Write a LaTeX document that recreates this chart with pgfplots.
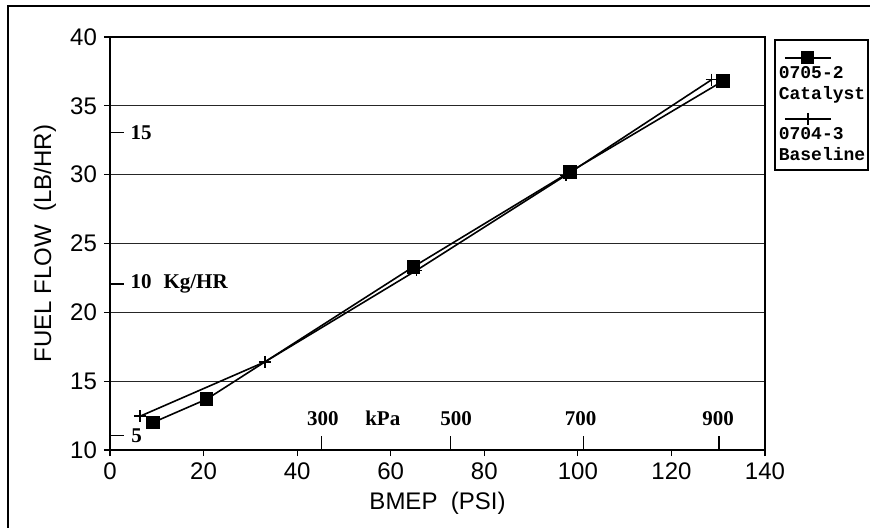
\documentclass[border=0pt]{standalone}
\usepackage{pgfplots}
\pgfplotsset{compat=1.18}
\usepackage{fontspec}
\setmainfont{Liberation Sans}
\newfontfamily\serifb{Liberation Serif}
\newfontfamily\monob{Liberation Mono}
\begin{document}
\begin{tikzpicture}
\path[use as bounding box] (-55pt,-38.5pt) rectangle (380pt,225pt);
\draw[line width=1.2pt] (-51pt,-45pt) -- (-51pt,222pt) -- (385pt,222pt);
\begin{axis}[
  scale only axis, width=327.5pt, height=206.5pt,
  xmin=0, xmax=140, ymin=10, ymax=40,
  xtick={0,20,...,140}, ytick={10,15,...,40},
  xtick pos=bottom, ytick pos=left,
  ymajorgrids, grid style={black!85, line width=0.5pt},
  axis line style={line width=0.8pt},
  tick align=outside, major tick length=3pt,
  tick style={black, line width=0.6pt},
  tick label style={font=\fontsize{12}{13}\selectfont},
  /pgf/number format/assume math mode=true,
  xlabel={BMEP\ \ (PSI)}, ylabel={FUEL FLOW\ \ (LB/HR)},
  every axis x label/.style={at={(axis description cs:0.5,0)}, yshift=-26.5pt, anchor=center, font=\fontsize{12}{14}\selectfont},
  every axis y label/.style={at={(axis description cs:0,0.5)}, xshift=-32.5pt, rotate=90, anchor=center, font=\fontsize{12}{14}\selectfont},
  legend style={at={(axis description cs:1,1)}, anchor=north west, xshift=4.5pt, yshift=-1pt,
    draw=black, line width=0.8pt, inner xsep=1pt, inner ysep=2.5pt, row sep=1pt,
    font=\monob\bfseries\fontsize{9}{10.5}\selectfont,
    nodes={align=left, inner sep=0.5pt}},
  legend cell align=left,
  legend image code/.code={
    \path[draw=none] (0pt,-1pt) rectangle (0.5pt,20pt);
    \draw[overlay,#1,mark repeat=2,mark phase=2] plot coordinates {(4pt,13.5pt)(15.5pt,13.5pt)(27pt,13.5pt)};
  },
]
\addplot[black, line width=0.8pt, mark=square*, mark size=2.9pt, mark options={solid}]
  coordinates {(9.2,12.0) (20.7,13.7) (64.8,23.3) (98.3,30.2) (131.0,36.8)};
\addlegendentry{0705-2\\Catalyst}
\addplot[black, line width=0.8pt, mark=+, mark size=3pt, mark options={solid, line width=0.8pt}]
  coordinates {(6.4,12.45) (33.1,16.4) (65.5,23.05) (97.4,29.95) (128.6,36.9)};
\addlegendentry{0704-3\\Baseline}

% secondary kPa scale
\draw[line width=0.7pt] (axis cs:45.2,10) -- (axis cs:45.2,11.0);
\draw[line width=0.7pt] (axis cs:72.8,10) -- (axis cs:72.8,11.0);
\draw[line width=0.7pt] (axis cs:101.2,10) -- (axis cs:101.2,11.0);
\draw[line width=0.7pt] (axis cs:130.2,10) -- (axis cs:130.2,11.0);
\node[font=\serifb\bfseries\fontsize{10.5}{11}\selectfont] at (axis cs:45.5,12.3) {300};
\node[font=\serifb\bfseries\fontsize{10.5}{11}\selectfont] at (axis cs:58.3,12.3) {kPa};
\node[font=\serifb\bfseries\fontsize{10.5}{11}\selectfont] at (axis cs:74.0,12.3) {500};
\node[font=\serifb\bfseries\fontsize{10.5}{11}\selectfont] at (axis cs:100.6,12.3) {700};
\node[font=\serifb\bfseries\fontsize{10.5}{11}\selectfont] at (axis cs:130.0,12.3) {900};

% secondary Kg/HR scale
\draw[line width=0.7pt] (axis cs:0,11.05) -- ++(7pt,0pt);
\draw[line width=0.7pt] (axis cs:0,22.05) -- ++(7pt,0pt);
\draw[line width=0.7pt] (axis cs:0,33.07) -- ++(7pt,0pt);
\node[anchor=west, inner sep=0pt, font=\serifb\bfseries\fontsize{10.5}{11}\selectfont] at (axis cs:4.5,11.05) {5};
\node[anchor=west, inner sep=0pt, font=\serifb\bfseries\fontsize{10.5}{11}\selectfont] at (axis cs:4.3,22.05) {10\hspace{6pt}Kg/HR};
\node[anchor=west, inner sep=0pt, font=\serifb\bfseries\fontsize{10.5}{11}\selectfont] at (axis cs:4.3,33.07) {15};
\end{axis}
\end{tikzpicture}
\end{document}
